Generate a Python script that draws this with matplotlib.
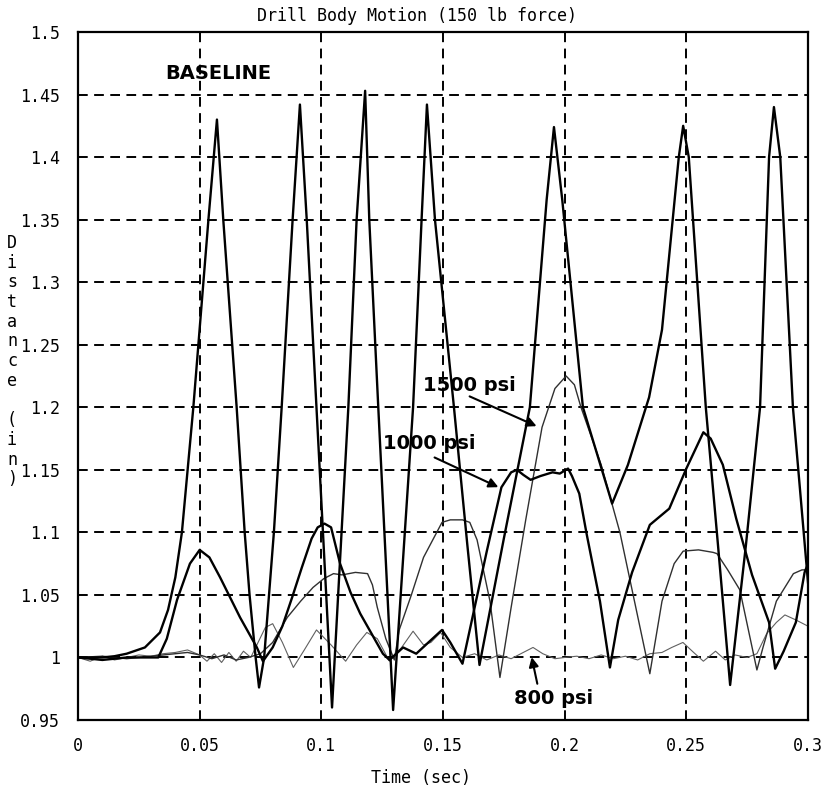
import matplotlib
matplotlib.use('Agg')
import matplotlib.pyplot as plt

# Drill body motion, 150 lb force - distance (in) vs time (sec)
x_ticks = [0, 0.05, 0.1, 0.15, 0.2, 0.25, 0.3]
x_tick_labels = ['0', '0.05', '0.1', '0.15', '0.2', '0.25', '0.3']
y_ticks = [0.95, 1.0, 1.05, 1.1, 1.15, 1.2, 1.25, 1.3, 1.35, 1.4, 1.45, 1.5]
y_tick_labels = ['0.95', '1', '1.05', '1.1', '1.15', '1.2', '1.25', '1.3', '1.35', '1.4', '1.45', '1.5']

baseline_t = [0, 0.01, 0.015, 0.02, 0.0275, 0.0337, 0.037, 0.040, 0.0427, 0.0474, 0.0536, 0.0571,
              0.0597, 0.0652, 0.0685, 0.0705, 0.073, 0.0744, 0.0765, 0.0785, 0.0805, 0.0837, 0.0882,
              0.0912, 0.094, 0.098, 0.1044, 0.1111, 0.1145, 0.118, 0.1197, 0.1234, 0.1295, 0.1377,
              0.1412, 0.1434, 0.1467, 0.1545, 0.160, 0.165, 0.175, 0.1857, 0.1926, 0.1956, 0.199,
              0.2075, 0.2195, 0.226, 0.2347, 0.24, 0.2469, 0.2487, 0.251, 0.258, 0.263, 0.268,
              0.2745, 0.2803, 0.284, 0.286, 0.2886, 0.2938, 0.3]
baseline_y = [1.0, 1.0, 1.001, 1.003, 1.008, 1.02, 1.038, 1.064, 1.1, 1.2, 1.35, 1.43,
              1.35, 1.2, 1.1, 1.05, 1.0, 0.976, 1.0, 1.05, 1.1, 1.2, 1.35,
              1.442, 1.35, 1.2, 0.96, 1.2, 1.35, 1.453, 1.35, 1.2, 0.958, 1.2,
              1.35, 1.442, 1.35, 1.2, 1.09, 0.994, 1.095, 1.2, 1.366, 1.424, 1.366,
              1.2, 1.123, 1.154, 1.208, 1.262, 1.4, 1.425, 1.4, 1.2, 1.09, 0.978,
              1.09, 1.2, 1.4, 1.44, 1.4, 1.2, 1.06]

psi1000_t = [0, 0.01, 0.02, 0.03, 0.033, 0.0365, 0.0407, 0.046, 0.050, 0.054, 0.0584, 0.0666,
             0.0735, 0.076, 0.080, 0.084, 0.088, 0.092, 0.096, 0.0985, 0.1013, 0.104, 0.1077,
             0.112, 0.116, 0.1253, 0.128, 0.1336, 0.139, 0.144, 0.1496, 0.153, 0.158, 0.163,
             0.168, 0.174, 0.178, 0.1804, 0.183, 0.186, 0.19, 0.195, 0.198, 0.2014, 0.203,
             0.206, 0.209, 0.2145, 0.2186, 0.222, 0.2277, 0.235, 0.243, 0.25, 0.257, 0.260,
             0.265, 0.2705, 0.277, 0.284, 0.2865, 0.29, 0.295, 0.2986, 0.3]
psi1000_y = [1.0, 0.998, 1.0, 1.0, 1.0, 1.015, 1.046, 1.075, 1.086, 1.08, 1.064, 1.032,
             1.008, 0.997, 1.008, 1.025, 1.048, 1.072, 1.095, 1.104, 1.107, 1.104, 1.075,
             1.052, 1.035, 1.003, 0.998, 1.008, 1.003, 1.012, 1.022, 1.012, 0.995, 1.04,
             1.085, 1.136, 1.148, 1.15, 1.146, 1.142, 1.145, 1.148, 1.147, 1.151, 1.145,
             1.131, 1.099, 1.045, 0.992, 1.03, 1.068, 1.106, 1.119, 1.151, 1.18, 1.175,
             1.154, 1.111, 1.066, 1.028, 0.991, 1.005, 1.028, 1.068, 1.075]

psi1500_t = [0, 0.01, 0.02, 0.03, 0.04, 0.045, 0.05, 0.055, 0.06, 0.065, 0.07, 0.075, 0.08,
             0.086, 0.0915, 0.0966, 0.101, 0.105, 0.1085, 0.114, 0.119, 0.121, 0.123, 0.1265,
             0.13, 0.132, 0.137, 0.142, 0.1496, 0.153, 0.158, 0.161, 0.164, 0.1693, 0.1734,
             0.178, 0.184, 0.1907, 0.196, 0.2006, 0.204, 0.2067, 0.215, 0.2227, 0.235, 0.24,
             0.245, 0.2487, 0.255, 0.261, 0.2626, 0.267, 0.272, 0.279, 0.2815, 0.287, 0.294,
             0.2975, 0.3]
psi1500_y = [1.0, 1.001, 0.999, 1.001, 1.003, 1.004, 1.002, 0.999, 1.002, 0.998, 1.0, 1.003, 1.012,
             1.032, 1.045, 1.056, 1.063, 1.067, 1.066, 1.068, 1.067, 1.058, 1.04, 1.015,
             0.998, 1.022, 1.05, 1.08, 1.108, 1.11, 1.11, 1.108, 1.094, 1.045, 0.984,
             1.04, 1.11, 1.184, 1.215, 1.225, 1.218, 1.2, 1.154, 1.10, 0.987, 1.045,
             1.075, 1.085, 1.086, 1.084, 1.083, 1.07, 1.054, 0.99, 1.008, 1.045, 1.067,
             1.07, 1.07]

psi800_t = [0, 0.005, 0.01, 0.015, 0.02, 0.025, 0.03, 0.035, 0.04, 0.045, 0.05, 0.053, 0.056,
            0.059, 0.062, 0.065, 0.068, 0.071, 0.074, 0.077, 0.08, 0.084, 0.0885, 0.093, 0.098,
            0.104, 0.11, 0.1145, 0.1187, 0.123, 0.128, 0.133, 0.1377, 0.142, 0.145, 0.149,
            0.153, 0.158, 0.163, 0.168, 0.173, 0.178, 0.183, 0.187, 0.191, 0.196, 0.2, 0.205,
            0.21, 0.215, 0.22, 0.225, 0.23, 0.235, 0.24, 0.244, 0.2486, 0.253, 0.257, 0.262,
            0.266, 0.27, 0.275, 0.279, 0.283, 0.287, 0.2905, 0.295, 0.3]
psi800_y = [1.0, 0.997, 1.001, 0.998, 1.0, 1.002, 1.001, 1.003, 1.004, 1.006, 1.002, 0.997, 1.003,
            0.996, 1.004, 0.997, 1.005, 1.0, 1.012, 1.024, 1.027, 1.012, 0.992, 1.006, 1.022,
            1.01, 0.997, 1.01, 1.02, 1.015, 0.997, 1.008, 1.021, 1.01, 1.012, 1.02,
            1.008, 1.0, 1.003, 0.998, 1.002, 0.999, 1.004, 1.008, 1.003, 0.999, 1.0, 1.001,
            0.999, 1.002, 0.999, 1.001, 0.998, 1.003, 1.004, 1.008, 1.012, 1.004, 0.997, 1.005,
            0.998, 1.002, 1.0, 1.003, 1.019, 1.028, 1.034, 1.03, 1.025]

mono = 'DejaVu Sans Mono'

fig = plt.figure(figsize=(8.24, 7.96), dpi=100)
ax = fig.add_axes([78 / 824, 1 - 720 / 796, 730 / 824, 688 / 796])

ax.plot(psi800_t, psi800_y, color='#606060', lw=0.8)
ax.plot(psi1500_t, psi1500_y, color='#303030', lw=1.0)
ax.plot(psi1000_t, psi1000_y, color='black', lw=1.7)
ax.plot(baseline_t, baseline_y, color='black', lw=1.7)

ax.set_xlim(0, 0.3)
ax.set_ylim(0.95, 1.5)
ax.set_xticks(x_ticks)
ax.set_xticklabels(x_tick_labels, family=mono, fontsize=12)
ax.set_yticks(y_ticks)
ax.set_yticklabels(y_tick_labels, family=mono, fontsize=12)
ax.tick_params(length=0)
ax.tick_params(axis='y', pad=13)
ax.tick_params(axis='x', pad=12)
ax.grid(True, color='black', lw=1.4, linestyle=(0, (5, 3.3)))
for s in ax.spines.values():
    s.set_linewidth(1.6)

fig.text(417 / 824, 1 - 16 / 796, 'Drill Body Motion (150 lb force)', family=mono,
         fontsize=12, ha='center', va='center')
fig.text(421 / 824, 1 - 778 / 796, 'Time (sec)', family=mono, fontsize=12,
         ha='center', va='center')

# stacked y label, one char per row
for i, ch in enumerate('Distance (in)'):
    fig.text(12 / 824, 1 - (243 + i * 19.7) / 796, ch, family=mono, fontsize=12,
             ha='center', va='center')

ax.text(0.0358, 1.467, 'BASELINE', fontsize=14, weight='bold', va='center')
ax.text(0.1418, 1.2176, '1500 psi', fontsize=14, weight='bold', va='center')
ax.text(0.1253, 1.171, '1000 psi', fontsize=14, weight='bold', va='center')
ax.text(0.1792, 0.967, '800 psi', fontsize=14, weight='bold', va='center')

arrow = dict(arrowstyle='-|>', color='black', lw=1.5, mutation_scale=14)
ax.annotate('', xy=(0.1895, 1.184), xytext=(0.1599, 1.2096), arrowprops=arrow)
ax.annotate('', xy=(0.1738, 1.1352), xytext=(0.1455, 1.1608), arrowprops=arrow)
ax.annotate('', xy=(0.1862, 1.0024), xytext=(0.189, 0.9768), arrowprops=arrow)

fig.savefig('out.png', dpi=100)
